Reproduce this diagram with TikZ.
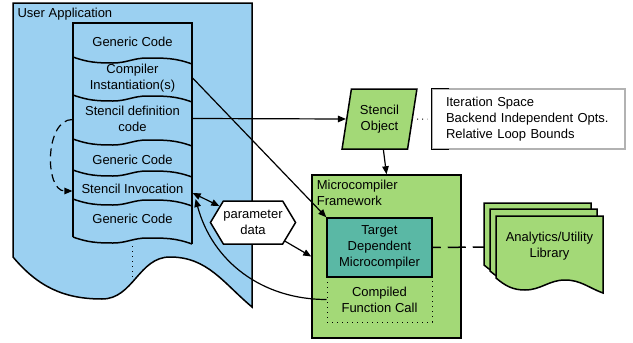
\documentclass[tikz,border=0pt]{standalone}
\usepackage{fontspec}
\setmainfont{Liberation Sans}
\usepackage{tikz}
\usetikzlibrary{calc,arrows.meta,shapes.geometric,shapes.symbols}

\definecolor{appblue}{RGB}{155,208,241}
\definecolor{mcgreen}{RGB}{163,217,119}
\definecolor{mcteal}{RGB}{90,184,165}

\tikzset{
  txt/.style={font=\fontsize{13}{16}\selectfont, align=center, inner sep=0pt},
  codepart/.style={txt, minimum width=119},
  shapeline/.style={line width=1.5pt},
  dotline/.style={line width=1pt, dash pattern=on 1pt off 4pt},
}
\def\codenode{\node[codepart]}
% wavy cut across the code column, #1 = its left end
\def\wavecut#1{\draw[shapeline] (#1) to[out=20,in=180] ++(40,6) to[out=0,in=180] ++(34,-5) to[out=0,in=200] ++(45,6);}
% one sheet of the library stack, #1 = its top left corner
\def\libsheet#1{\draw[shapeline,fill=mcgreen] (#1) -- ++(107,0) -- ++(0,77) to[out=200,in=0] ++(-38,-13) to[out=180,in=0] ++(-40,10) to[out=180,in=40] ++(-29,-12) -- cycle;}

\begin{document}
\begin{tikzpicture}[x=1pt,y=1pt,yscale=-1,line width=1.2pt,>={Triangle[length=8pt,width=6.5pt]}]
\useasboundingbox (0,0) rectangle (633,343);

% user application
\draw[shapeline,fill=appblue] (13,3) -- (252,3) -- (252,307) to[out=220,in=0] (170,257)
  to[out=180,in=0] (102,299) to[out=180,in=50] (13,257) -- cycle;
\node[txt,anchor=west] (uatitle) at (17,14) {User Application};

% code column, nodes are relative to (col)
\coordinate (col) at (132.5,23);
\draw[shapeline] (73,237) -- (73,23) -- (192,23) -- (192,244);
\wavecut{73,57}
\wavecut{73,95}
\wavecut{73,139}
\wavecut{73,170}
\wavecut{73,199}
\wavecut{73,237}
\codenode (gc1) at ($ (col) + (0,19) $) {Generic Code};
\codenode (ci) at ($ (col) + (0,55) $) {Compiler\\Instantiation(s)};
\codenode (sdef) at ($ (col) + (0,95.5) $) {Stencil definition\\code};
\codenode (gc2) at ($ (col) + (0,137) $) {Generic Code};
\codenode (inv) at ($ (col) + (0,166) $) {Stencil Invocation};
\codenode (gc3) at ($ (col) + (0,196) $) {Generic Code};
\draw[dotline] ($ (col) + (0,223) $) -- ++(0,32);
\draw[->,dash pattern=on 8pt off 5pt] ($ (sdef.west) + (0,1) $) to[out=180,in=180] ($ (inv.west) + (0,2) $);

% stencil object and its notes
\node[txt,trapezium,trapezium left angle=77,trapezium right angle=103,trapezium stretches=true,
  minimum width=75,minimum height=60,draw,shapeline,fill=mcgreen] (so) at (379.5,119) {Stencil\\Object};
\node[txt,align=left,text width=165,inner xsep=14,minimum height=60,draw=gray!60] (notes) at (528.5,119)
  {Iteration Space\\Backend Independent Opts.\\Relative Loop Bounds};
\draw[shapeline] ($ (notes.north west) + (18,0) $) -- (notes.north west) -- (notes.south west) -- ++(18,0);
\draw[dotline,shorten <=4pt,shorten >=4pt] (so.east) -- (notes.west);

% microcompiler framework
\node[draw,shapeline,fill=mcgreen,minimum width=149,minimum height=163,inner sep=0pt] (mf) at (386.5,256.5) {};
\node[txt,align=left,anchor=north west] (mftitle) at ($ (mf.north west) + (5,5) $) {Microcompiler\\Framework};
\node[txt,draw,dotline,minimum width=105,minimum height=45] (cfc) at ($ (mf) + (-7,43) $) {Compiled\\Function Call};
\node[txt,draw,shapeline,fill=mcteal,minimum width=105,minimum height=59] (tdm) at ($ (mf) + (-7,-9) $) {Target\\Dependent\\Microcompiler};

% analytics library stack
\libsheet{484,203}
\libsheet{490,209}
\libsheet{496,216}
\node[txt] (lib) at (549.5,246) {Analytics/Utility\\Library};
\coordinate (libedge) at (484,247);
\draw[shapeline,dash pattern=on 18pt off 7pt,dash phase=10pt] (tdm.east) -- (libedge);

% parameter data
\node[txt,signal,signal to=west and east,signal pointer angle=118,draw,shapeline,fill=white,
  minimum width=74,minimum height=43] (pd) at (253,222.5) {parameter\\data};

% connectors
\draw[->] (ci.east) -- (tdm.north west);
\draw[->] (sdef.east) -- (so.west);
\draw[->] (so) -- (mf.north);
\draw[<->] ($ (inv.east) + (0,4) $) -- (pd);
\draw[->] (pd) -- (mf.west);
\draw[->] (cfc.west) to[out=180,in=75] ($ (inv.east) + (3,10) $);
\end{tikzpicture}
\end{document}
